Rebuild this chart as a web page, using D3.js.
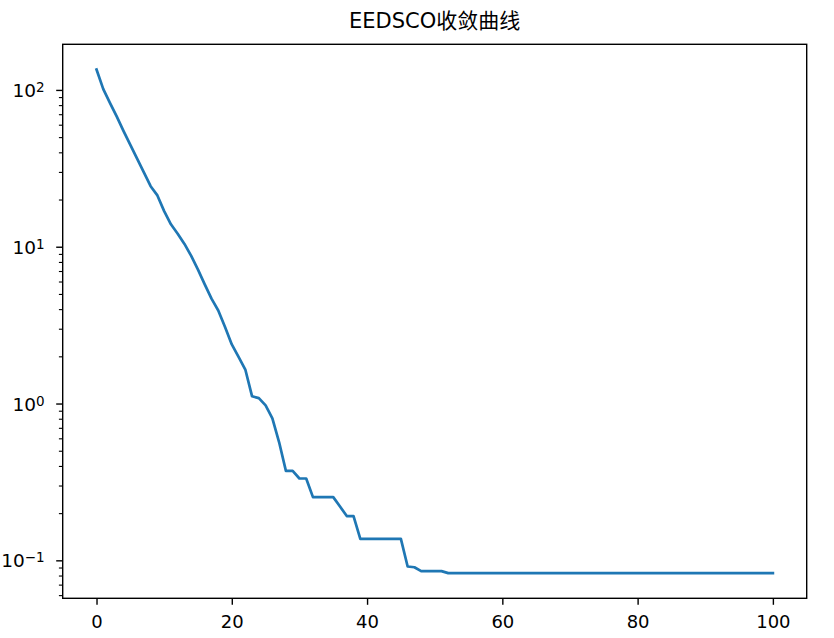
<!DOCTYPE html>
<html>
<head>
<meta charset="utf-8">
<script src="https://cdn.jsdelivr.net/npm/d3@7"></script>
<style>
  body { margin: 0; background: #ffffff; }
  text { font-family: "DejaVu Sans", "Noto Sans CJK SC", sans-serif; fill: #000000; }
</style>
</head>
<body>
<div id="chart"></div>
<script>
/* convergence curve, log scale */

var chartTitle = "EEDSCO收敛曲线";

// best fitness per iteration (index = iteration number)
var fitness = [
  136, 102, 83, 68, 55, 45, 36.7, 30, 24.5, 21.4,
  17, 14, 12.2, 10.5, 8.8, 7.2, 5.8, 4.7, 3.95, 3.1,
  2.4, 2.0, 1.66, 1.12, 1.09, 0.98, 0.81, 0.57, 0.375, 0.375,
  0.335, 0.335, 0.255, 0.255, 0.255, 0.255, 0.222, 0.193, 0.193, 0.138,
  0.138, 0.138, 0.138, 0.138, 0.138, 0.138, 0.092, 0.091, 0.086, 0.086,
  0.086, 0.086, 0.0835, 0.0835, 0.0835, 0.0835, 0.0835, 0.0835, 0.0835, 0.0835,
  0.0835, 0.0835, 0.0835, 0.0835, 0.0835, 0.0835, 0.0835, 0.0835, 0.0835, 0.0835,
  0.0835, 0.0835, 0.0835, 0.0835, 0.0835, 0.0835, 0.0835, 0.0835, 0.0835, 0.0835,
  0.0835, 0.0835, 0.0835, 0.0835, 0.0835, 0.0835, 0.0835, 0.0835, 0.0835, 0.0835,
  0.0835, 0.0835, 0.0835, 0.0835, 0.0835, 0.0835, 0.0835, 0.0835, 0.0835, 0.0835,
  0.0835
];

var xTicks = [0, 20, 40, 60, 80, 100];
var yTicks = [0.1, 1, 10, 100];
var yTickExponents = ["\u22121", "0", "1", "2"];

// set the dimensions and margins of the graph
var margin = {top: 44.3, right: 27.3, bottom: 39.7, left: 62.7},
  width = 834 - margin.left - margin.right,
  height = 638 - margin.top - margin.bottom;

var svg = d3.select("#chart")
  .append("svg")
    .attr("width", width + margin.left + margin.right)
    .attr("height", height + margin.top + margin.bottom)
  .append("g")
    .attr("transform", "translate(" + margin.left + "," + margin.top + ")");

// 5% padding on both axes like matplotlib (log space for y)
var xMax = fitness.length - 1;
var xPad = xMax * 0.05;
var x = d3.scaleLinear()
  .domain([-xPad, xMax + xPad])
  .range([0, width]);

var lo = Math.log10(d3.min(fitness)), hi = Math.log10(d3.max(fitness));
var yPad = (hi - lo) * 0.05;
var y = d3.scaleLog()
  .domain([Math.pow(10, lo - yPad), Math.pow(10, hi + yPad)])
  .range([height, 0]);

// minor ticks at 2..9 of each decade inside the domain
var minorTicks = [];
yTicks.concat([0.01]).forEach(function(d) {
  for (var k = 2; k <= 9; k++) {
    var v = d * k;
    if (v >= y.domain()[0] && v <= y.domain()[1]) minorTicks.push(v);
  }
});

// x axis
var xAxis = svg.append("g")
  .attr("transform", "translate(0," + height + ")")
  .call(d3.axisBottom(x).tickValues(xTicks).tickSize(6.5).tickPadding(6).tickFormat(d3.format("d")));
xAxis.select(".domain").remove();
xAxis.selectAll(".tick line").attr("stroke", "#000").attr("stroke-width", 1.4);
xAxis.selectAll(".tick text")
  .attr("font-size", "18px")
  .attr("dy", null)
  .attr("y", 30)
  .style("font-family", "DejaVu Sans");

// y axis, minor ticks first
svg.append("g")
  .selectAll("line")
  .data(minorTicks)
  .enter()
  .append("line")
    .attr("x1", -3.8)
    .attr("x2", 0)
    .attr("y1", function(d) { return y(d); })
    .attr("y2", function(d) { return y(d); })
    .attr("stroke", "#000")
    .attr("stroke-width", 1.1);

var yMajor = svg.append("g")
  .selectAll("g")
  .data(yTicks)
  .enter()
  .append("g")
    .attr("transform", function(d) { return "translate(0," + y(d) + ")"; });

yMajor.append("line")
  .attr("x1", -6.5)
  .attr("x2", 0)
  .attr("stroke", "#000")
  .attr("stroke-width", 1.4);

var yLabel = yMajor.append("text")
  .attr("x", -18)
  .attr("y", 6.5)
  .attr("text-anchor", "end")
  .attr("font-size", "18.5px");
yLabel.append("tspan").text("10");
yLabel.append("tspan")
  .attr("dy", -5)
  .attr("font-size", "13.5px")
  .text(function(d, i) { return yTickExponents[i]; });

// the curve
var line = d3.line()
  .x(function(d, i) { return x(i); })
  .y(function(d) { return y(d); });

svg.append("path")
  .datum(fitness)
  .attr("d", line)
  .attr("fill", "none")
  .attr("stroke", "#1f77b4")
  .attr("stroke-width", 2.7)
  .attr("stroke-linejoin", "round")
  .attr("stroke-linecap", "square");

// frame
svg.append("rect")
  .attr("width", width)
  .attr("height", height)
  .attr("fill", "none")
  .attr("stroke", "#000")
  .attr("stroke-width", 1.4);

// title
svg.append("text")
  .attr("x", width / 2)
  .attr("y", -16)
  .attr("text-anchor", "middle")
  .attr("font-size", "21px")
  .text(chartTitle);
</script>
</body>
</html>
